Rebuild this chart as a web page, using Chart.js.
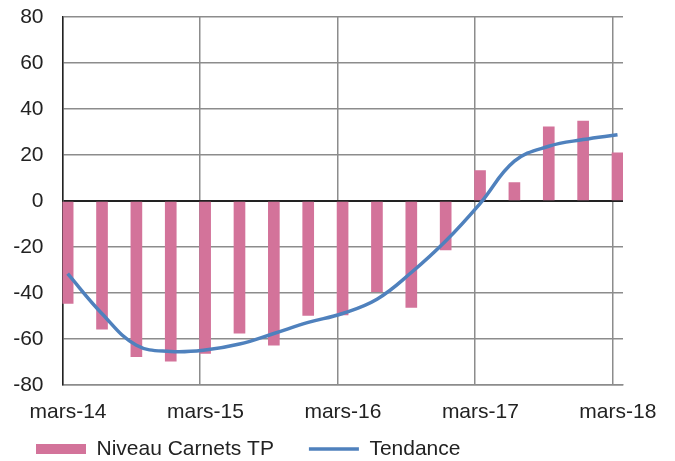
<!DOCTYPE html>
<html>
<head>
<meta charset="utf-8">
<script src="https://cdn.jsdelivr.net/npm/chart.js@4"></script>
<style>
  html, body { margin: 0; padding: 0; background: #fff; }
  #wrap { width: 675px; height: 461px; }
</style>
</head>
<body>
<div id="wrap"><canvas id="carnets"></canvas></div>
<script>
// quarterly points, mars-14 .. mars-18
const quarters = ['mars-14', 'juin-14', 'sept-14', 'déc-14',
                  'mars-15', 'juin-15', 'sept-15', 'déc-15',
                  'mars-16', 'juin-16', 'sept-16', 'déc-16',
                  'mars-17', 'juin-17', 'sept-17', 'déc-17',
                  'mars-18'];
const carnets = [-44.5, -55.7, -67.7, -69.6, -66.3, -57.5, -62.7, -49.8,
                 -49.5, -39.4, -46.3, -21.3, 13.2, 8.0, 32.3, 34.8, 20.9];
const tendance = [-31.6, -49, -62.7, -65.4, -64.8, -62.2, -57.6, -52.8,
                  -48.9, -42.7, -31.1, -17.4, -1.1, 17.3, 23.8, 26.7, 28.8];
const yTicks = [-80, -60, -40, -20, 0, 20, 40, 60, 80];

// bars sit just right of each quarter mark
const shift = 0.15;
const pts = arr => arr.map((v, i) => ({ x: i + shift, y: v }));

const font = { family: '"Liberation Sans", Arial, sans-serif', size: 21 };
const gridGrey = '#8c8c8c';

// the legend keeps a wide gap between its items, so stretch its box upward
const legendLift = {
  id: 'legendLift',
  afterLayout(chart) {
    const lg = chart.legend;
    if (!lg) return;
    lg.top = 403.5;
    lg.bottom = chart.height;
    lg.height = lg.bottom - lg.top;
  }
};

new Chart('carnets', {
  data: {
    datasets: [{
      type: 'bar',
      label: 'Niveau Carnets TP',
      data: pts(carnets),
      backgroundColor: '#d3739a',
      borderWidth: 0,
      barThickness: 11,
      pointStyle: 'rect',
      order: 1
    }, {
      type: 'line',
      label: 'Tendance',
      data: pts(tendance),
      borderColor: '#4f81bd',
      backgroundColor: '#4f81bd',
      borderWidth: 3.5,
      tension: 0.4,
      pointRadius: 0,
      pointStyle: 'line',
      order: 0
    }]
  },
  plugins: [legendLift],
  options: {
    responsive: true,
    maintainAspectRatio: false,
    animation: false,
    layout: { padding: { left: 1, right: 52, top: 17, bottom: 0 } },
    scales: {
      x: {
        type: 'linear',
        min: 0,
        max: 16.31,
        offset: false,
        afterFit: s => { s.height = 40.2; },
        grid: { color: gridGrey, lineWidth: 1.5, drawTicks: false, offset: false },
        border: { color: gridGrey, width: 1.5 },
        ticks: {
          stepSize: 4,
          includeBounds: false,
          padding: 15,
          labelOffset: 5.5,   // centre the dates under the bars
          maxRotation: 0,
          autoSkip: false,
          color: '#222',
          font: font,
          callback: v => quarters[v] || ''
        }
      },
      y: {
        min: -80,
        max: 80,
        afterFit: s => {
          s.width = 61.5;
          s.paddingTop = 0;
          s.paddingBottom = 0;
        },
        afterBuildTicks: s => { s.ticks = yTicks.map(v => ({ value: v })); },
        grid: {
          drawTicks: false,
          lineWidth: c => c.tick && c.tick.value === 0 ? 2 : 1.5,
          color: c => c.tick && c.tick.value === 0 ? '#222' : gridGrey
        },
        border: { color: '#222', width: 1.5 },
        ticks: { padding: 19, color: '#222', font: font }
      }
    },
    plugins: {
      tooltip: { enabled: false },
      legend: {
        position: 'bottom',
        align: 'start',
        maxHeight: 35.8,
        labels: {
          usePointStyle: true,
          pointStyleWidth: 50,
          boxHeight: 10,
          padding: 35,
          color: '#222',
          font: font,
          sort: (a, b) => a.datasetIndex - b.datasetIndex
        }
      }
    }
  }
});
</script>
</body>
</html>
